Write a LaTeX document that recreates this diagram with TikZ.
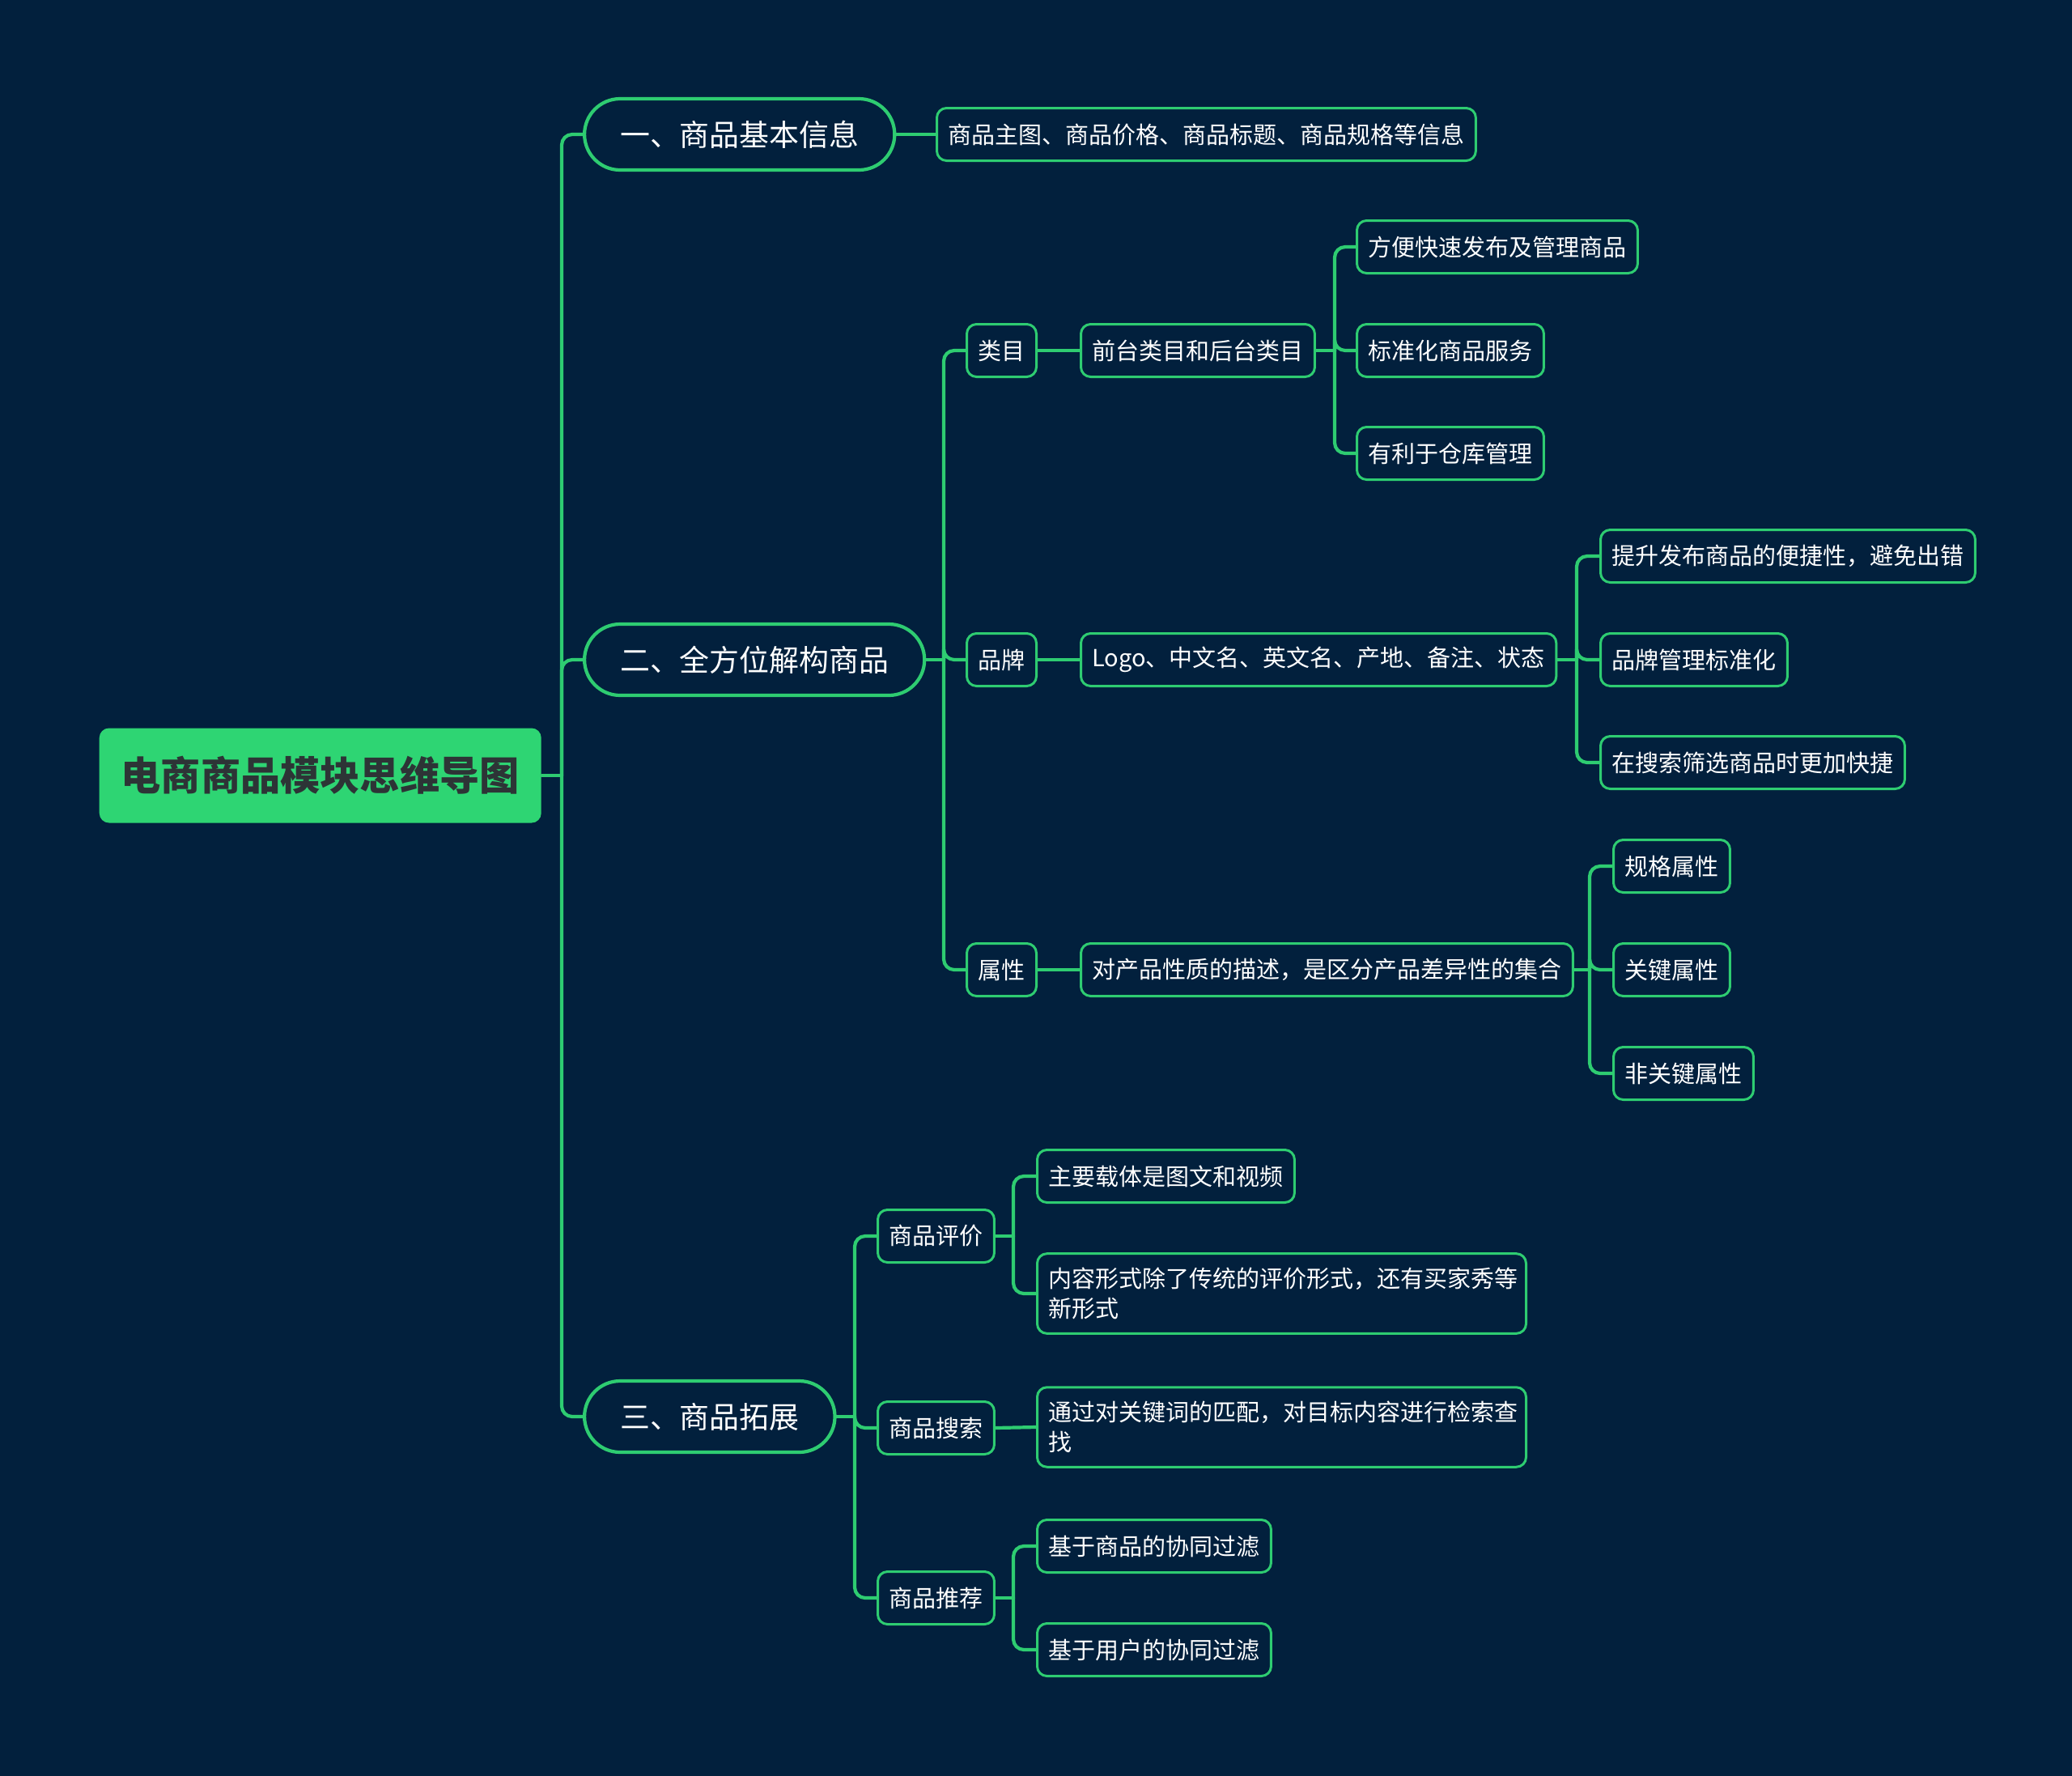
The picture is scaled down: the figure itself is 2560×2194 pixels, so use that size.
\documentclass[tikz,border=0pt]{standalone}
\usepackage{fontspec}
\setmainfont{Noto Sans CJK SC}
\definecolor{bg}{HTML}{02203D}
\definecolor{branch}{HTML}{2ECC71}
\definecolor{rootfill}{HTML}{2ED573}
\definecolor{roottext}{HTML}{2D3436}

\begin{document}
\begin{tikzpicture}[
  x=0.1mm, y=-0.1mm,
  line cap=round, line join=round,
  every node/.style={text=white, inner sep=0pt},
  link/.style={draw=branch, line width=0.42mm, rounded corners=1.3mm},
  root/.style={fill=rootfill, text=roottext, rounded corners=1.2mm, minimum height=11.7mm, inner xsep=2.7mm, font=\fontsize{14}{16}\selectfont\bfseries},
  topic/.style={draw=branch, fill=bg, line width=0.42mm, rounded corners=4.4mm, minimum height=8.8mm, inner xsep=4.4mm, font=\fontsize{10.5}{12}\selectfont},
  item/.style={draw=branch, fill=bg, line width=0.3mm, rounded corners=1.2mm, minimum height=6.5mm, inner xsep=1.4mm, font=\fontsize{8.25}{10.7}\selectfont},
  wrap/.style={item, text width=57.6mm, align=left, inner ysep=1.7mm},
]
\fill[bg] (0,0) rectangle (2560,2194);
\useasboundingbox (0,0) rectangle (2560,2194);

\node[root, anchor=west] (root) at (122,958) {电商商品模块思维导图};

\node[topic, anchor=west] (basic) at (720,166) {一、商品基本信息};
\node[topic, anchor=west] (struct) at (720,815) {二、全方位解构商品};
\node[topic, anchor=west] (extend) at (720,1750) {三、商品拓展};

\node[item, anchor=west] (info) at (1156,166) {商品主图、商品价格、商品标题、商品规格等信息};

\node[item, anchor=west] (cat) at (1193,433) {类目};
\node[item, anchor=west] (brand) at (1193,815) {品牌};
\node[item, anchor=west] (attr) at (1193,1198) {属性};

\node[item, anchor=west] (catdesc) at (1334,433) {前台类目和后台类目};
\node[item, anchor=west] (branddesc) at (1334,815) {Logo、中文名、英文名、产地、备注、状态};
\node[item, anchor=west] (attrdesc) at (1334,1198) {对产品性质的描述，是区分产品差异性的集合};

\node[item, anchor=west] (cat1) at (1675,305) {方便快速发布及管理商品};
\node[item, anchor=west] (cat2) at (1675,433) {标准化商品服务};
\node[item, anchor=west] (cat3) at (1675,560) {有利于仓库管理};

\node[item, anchor=west] (brand1) at (1976,687) {提升发布商品的便捷性，避免出错};
\node[item, anchor=west] (brand2) at (1976,815) {品牌管理标准化};
\node[item, anchor=west] (brand3) at (1976,942) {在搜索筛选商品时更加快捷};

\node[item, anchor=west] (attr1) at (1992,1070) {规格属性};
\node[item, anchor=west] (attr2) at (1992,1198) {关键属性};
\node[item, anchor=west] (attr3) at (1992,1326) {非关键属性};

\node[item, anchor=west] (review) at (1083,1527) {商品评价};
\node[item, anchor=west] (search) at (1083,1764) {商品搜索};
\node[item, anchor=west] (recommend) at (1083,1974) {商品推荐};

\node[item, anchor=west] (review1) at (1280,1453) {主要载体是图文和视频};
\node[wrap, anchor=west] (review2) at (1280,1598) {内容形式除了传统的评价形式，还有买家秀等\\新形式};
\node[wrap, anchor=west] (search1) at (1280,1763) {通过对关键词的匹配，对目标内容进行检索查\\找};
\node[item, anchor=west] (rec1) at (1280,1910) {基于商品的协同过滤};
\node[item, anchor=west] (rec2) at (1280,2038) {基于用户的协同过滤};

\coordinate (rootfork) at (694,958);
\coordinate (structfork) at (1166,815);
\coordinate (catfork) at (1649,433);
\coordinate (brandfork) at (1948,815);
\coordinate (attrfork) at (1964,1198);
\coordinate (extendfork) at (1056,1750);
\coordinate (reviewfork) at (1252,1527);
\coordinate (recfork) at (1252,1974);

\draw[link] (root.east) -- (rootfork);
\foreach \t in {basic,struct,extend} \draw[link] (rootfork) |- (\t.west);
\draw[link] (basic.east) -- (info.west);

\draw[link] (struct.east) -- (structfork);
\foreach \t in {cat,brand,attr} \draw[link] (structfork) |- (\t.west);
\draw[link] (cat.east) -- (catdesc.west);
\draw[link] (brand.east) -- (branddesc.west);
\draw[link] (attr.east) -- (attrdesc.west);

\draw[link] (catdesc.east) -- (catfork);
\foreach \t in {cat1,cat2,cat3} \draw[link] (catfork) |- (\t.west);
\draw[link] (branddesc.east) -- (brandfork);
\foreach \t in {brand1,brand2,brand3} \draw[link] (brandfork) |- (\t.west);
\draw[link] (attrdesc.east) -- (attrfork);
\foreach \t in {attr1,attr2,attr3} \draw[link] (attrfork) |- (\t.west);

\draw[link] (extend.east) -- (extendfork);
\foreach \t in {review,search,recommend} \draw[link] (extendfork) |- (\t.west);
\draw[link] (review.east) -- (reviewfork);
\foreach \t in {review1,review2} \draw[link] (reviewfork) |- (\t.west);
\draw[link] (search.east) -- (search1.west);
\draw[link] (recommend.east) -- (recfork);
\foreach \t in {rec1,rec2} \draw[link] (recfork) |- (\t.west);
\end{tikzpicture}
\end{document}
